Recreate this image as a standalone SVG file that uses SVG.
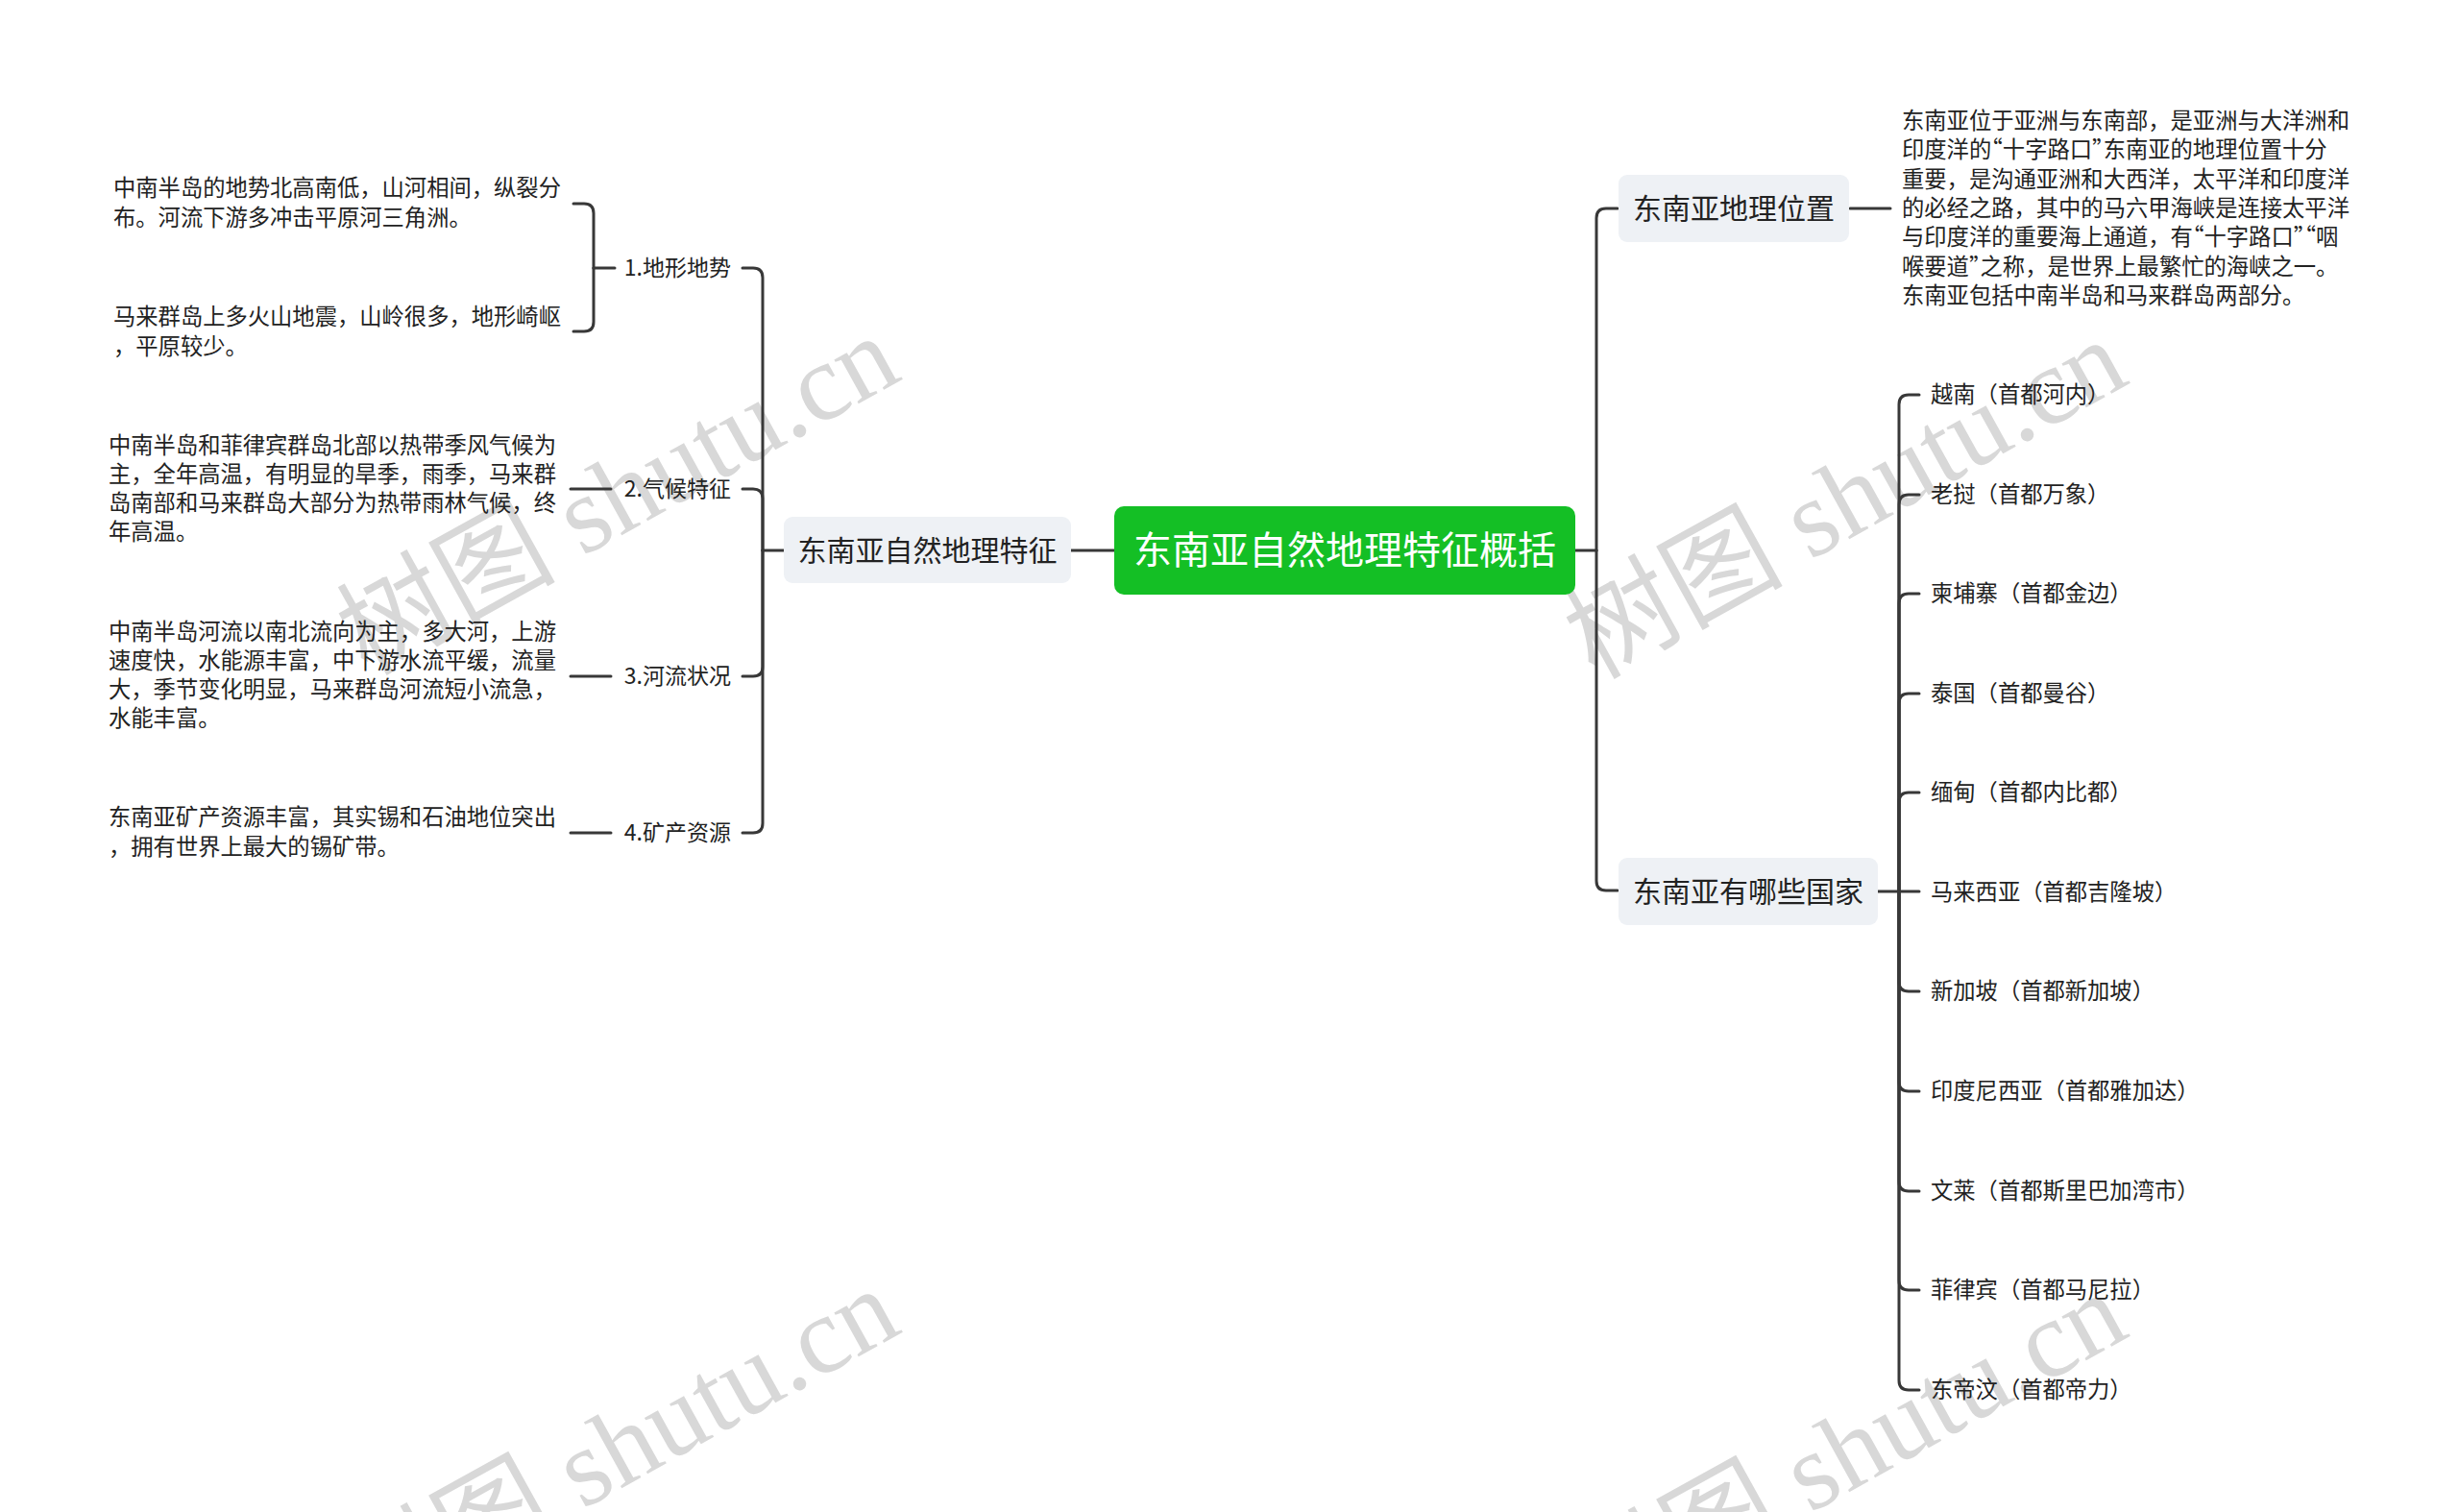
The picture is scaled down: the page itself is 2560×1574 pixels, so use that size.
<svg xmlns="http://www.w3.org/2000/svg" width="2560" height="1574" viewBox="0 0 2560 1574">
<style>
.wm{font-family:"Liberation Serif","Noto Sans CJK SC",serif;font-size:114px;fill:#d8d8d8}
.t{font-family:"Noto Sans CJK SC","Noto Sans",sans-serif;fill:#222;dominant-baseline:central;text-spacing-trim:space-all;transform:translateY(-2px)}
.q{font-feature-settings:"halt" 1}
.leaf{font-size:23.3px}
.lab{font-size:23px}
.cty{font-size:23.3px}
.main{font-size:30px}
.root{font-size:40px;fill:#ffffff;transform:translateY(-3px)}
.box{fill:#eef1f5}
.c{fill:none;stroke:#383838;stroke-width:3;stroke-linecap:round}
</style>
<rect width="2560" height="1574" fill="#ffffff"/>
<g id="watermarks">
<text class="wm" x="382" y="704" transform="rotate(-29 382 704)">树图 shutu.cn</text>
<text class="wm" x="1660" y="708" transform="rotate(-29 1660 708)">树图 shutu.cn</text>
<text class="wm" x="382" y="1696" transform="rotate(-29 382 1696)">树图 shutu.cn</text>
<text class="wm" x="1660" y="1700" transform="rotate(-29 1660 1700)">树图 shutu.cn</text>
</g>
<g id="connectors">
<path class="c" d="M1160,573 H1115"/>
<path class="c" d="M816,573 H794"/>
<path class="c" d="M794,573 V289 Q794,279 784,279 H773"/>
<path class="c" d="M794,573 V519 Q794,509 784,509 H773"/>
<path class="c" d="M794,573 V694 Q794,704 784,704 H773"/>
<path class="c" d="M794,573 V857 Q794,867 784,867 H773"/>
<path class="c" d="M640,279 H618"/>
<path class="c" d="M618,279 V222 Q618,212 608,212 H597"/>
<path class="c" d="M618,279 V335 Q618,345 608,345 H597"/>
<path class="c" d="M636,509 H594"/>
<path class="c" d="M636,704 H594"/>
<path class="c" d="M636,867 H594"/>
<path class="c" d="M1640,573 H1662"/>
<path class="c" d="M1662,573 V227 Q1662,217 1672,217 H1684"/>
<path class="c" d="M1662,573 V917 Q1662,927 1672,927 H1684"/>
<path class="c" d="M1926,217 H1968"/>
<path class="c" d="M1955,928 H1998"/>
<path class="c" d="M1977,928 V421 Q1977,411 1987,411 H1998"/>
<path class="c" d="M1977,928 V525 Q1977,515 1987,515 H1998"/>
<path class="c" d="M1977,928 V628 Q1977,618 1987,618 H1998"/>
<path class="c" d="M1977,928 V732 Q1977,722 1987,722 H1998"/>
<path class="c" d="M1977,928 V835 Q1977,825 1987,825 H1998"/>
<path class="c" d="M1977,928 V1022 Q1977,1032 1987,1032 H1998"/>
<path class="c" d="M1977,928 V1126 Q1977,1136 1987,1136 H1998"/>
<path class="c" d="M1977,928 V1230 Q1977,1240 1987,1240 H1998"/>
<path class="c" d="M1977,928 V1333 Q1977,1343 1987,1343 H1998"/>
<path class="c" d="M1977,928 V1437 Q1977,1447 1987,1447 H1998"/>
</g>
<g id="root">
<rect x="1160" y="527" width="480" height="92" rx="10" fill="#14bf25"/>
<text class="t root" x="1400" y="573" text-anchor="middle">东南亚自然地理特征概括</text>
</g>
<g id="n-natural">
<rect class="box" x="816" y="538" width="299" height="69" rx="9"/>
<text class="t main" x="965.5" y="573" text-anchor="middle">东南亚自然地理特征</text>
</g>
<g id="n-terrain">
<text class="t lab" x="761" y="279" text-anchor="end">1.地形地势</text>
</g>
<g id="n-terrain-a">
<text class="t leaf" x="118" y="196">中南半岛的地势北高南低，山河相间，纵裂分</text>
<text class="t leaf" x="118" y="227">布。河流下游多冲击平原河三角洲。</text>
</g>
<g id="n-terrain-b">
<text class="t leaf" x="118" y="330">马来群岛上多火山地震，山岭很多，地形崎岖</text>
<text class="t leaf" x="118" y="361">，平原较少。</text>
</g>
<g id="n-climate">
<text class="t lab" x="761" y="509" text-anchor="end">2.气候特征</text>
</g>
<g id="n-climate-a">
<text class="t leaf" x="113" y="464">中南半岛和菲律宾群岛北部以热带季风气候为</text>
<text class="t leaf" x="113" y="494">主，全年高温，有明显的旱季，雨季，马来群</text>
<text class="t leaf" x="113" y="524">岛南部和马来群岛大部分为热带雨林气候，终</text>
<text class="t leaf" x="113" y="554">年高温。</text>
</g>
<g id="n-river">
<text class="t lab" x="761" y="704" text-anchor="end">3.河流状况</text>
</g>
<g id="n-river-a">
<text class="t leaf" x="113" y="658">中南半岛河流以南北流向为主，多大河，上游</text>
<text class="t leaf" x="113" y="688">速度快，水能源丰富，中下游水流平缓，流量</text>
<text class="t leaf" x="113" y="718">大，季节变化明显，马来群岛河流短小流急，</text>
<text class="t leaf" x="113" y="748">水能丰富。</text>
</g>
<g id="n-mineral">
<text class="t lab" x="761" y="867" text-anchor="end">4.矿产资源</text>
</g>
<g id="n-mineral-a">
<text class="t leaf" x="113" y="851">东南亚矿产资源丰富，其实锡和石油地位突出</text>
<text class="t leaf" x="113" y="882">，拥有世界上最大的锡矿带。</text>
</g>
<g id="n-location">
<rect class="box" x="1685" y="182" width="240" height="70" rx="9"/>
<text class="t main" x="1805" y="217" text-anchor="middle">东南亚地理位置</text>
</g>
<g id="n-location-a">
<text class="t leaf" x="1980" y="126">东南亚位于亚洲与东南部，是亚洲与大洋洲和</text>
<text class="t leaf" x="1980" y="156">印度洋的<tspan class="q">“</tspan>十字路口<tspan class="q">”</tspan>东南亚的地理位置十分</text>
<text class="t leaf" x="1980" y="187">重要，是沟通亚洲和大西洋，太平洋和印度洋</text>
<text class="t leaf" x="1980" y="217">的必经之路，其中的马六甲海峡是连接太平洋</text>
<text class="t leaf" x="1980" y="247">与印度洋的重要海上通道，有<tspan class="q">“</tspan>十字路口<tspan class="q">”“</tspan>咽</text>
<text class="t leaf" x="1980" y="278">喉要道<tspan class="q">”</tspan>之称，是世界上最繁忙的海峡之一。</text>
<text class="t leaf" x="1980" y="308">东南亚包括中南半岛和马来群岛两部分。</text>
</g>
<g id="n-countries">
<rect class="box" x="1685" y="893" width="270" height="70" rx="9"/>
<text class="t main" x="1820" y="928" text-anchor="middle">东南亚有哪些国家</text>
</g>
<g id="c-vn"><text class="t cty" x="2010" y="411">越南（首都河内）</text></g>
<g id="c-la"><text class="t cty" x="2010" y="515">老挝（首都万象）</text></g>
<g id="c-kh"><text class="t cty" x="2010" y="618">柬埔寨（首都金边）</text></g>
<g id="c-th"><text class="t cty" x="2010" y="722">泰国（首都曼谷）</text></g>
<g id="c-mm"><text class="t cty" x="2010" y="825">缅甸（首都内比都）</text></g>
<g id="c-my"><text class="t cty" x="2010" y="929">马来西亚（首都吉隆坡）</text></g>
<g id="c-sg"><text class="t cty" x="2010" y="1032">新加坡（首都新加坡）</text></g>
<g id="c-id"><text class="t cty" x="2010" y="1136">印度尼西亚（首都雅加达）</text></g>
<g id="c-bn"><text class="t cty" x="2010" y="1240">文莱（首都斯里巴加湾市）</text></g>
<g id="c-ph"><text class="t cty" x="2010" y="1343">菲律宾（首都马尼拉）</text></g>
<g id="c-tl"><text class="t cty" x="2010" y="1447">东帝汶（首都帝力）</text></g>
</svg>
